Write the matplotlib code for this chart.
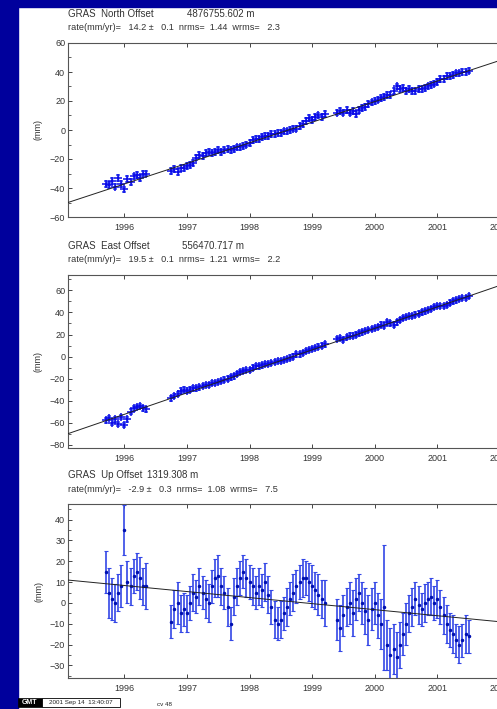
import numpy as np
import matplotlib
matplotlib.use("Agg")
import matplotlib.pyplot as plt
from matplotlib.patches import Rectangle
from matplotlib.ticker import MultipleLocator

plt.rcParams['font.family'] = ['Liberation Sans', 'DejaVu Sans']

# observing spans (decimal year), one sample every STEP years
SPANS = [(1995.70, 1996.35), (1996.75, 1999.20), (1999.40, 2001.50)]
STEP = 0.05
epochs = np.concatenate([np.arange(a, b + STEP / 2, STEP) for a, b in SPANS])

north = [-37, -38, -35, -39, -33, -37, -41, -34, -36, -32, -31, -33, -30, -30,
         -28, -27, -29, -26, -26, -25, -24, -23, -19, -17, -18, -16, -15, -16, -15,
         -14, -15, -14, -13, -14, -13, -12, -12, -11, -10, -9, -7, -6, -6, -5,
         -4, -4, -3, -3, -2, -2, -1, -1, 0, 1, 1, 3, 4, 6, 8, 7, 9, 10, 9, 11,
         12, 13, 12, 14, 12, 13, 11, 14, 15, 16, 18, 19,
         20, 21, 22, 23, 24, 24, 27, 30, 28, 29, 27, 28, 27, 27, 28, 28, 29, 30, 31, 32,
         33, 35, 35, 37, 37, 38, 39, 39, 40, 40, 41]

east = [-58, -56, -60, -57, -61, -55, -62, -57, -50, -47, -46, -45, -47, -48,
        -38, -36, -34, -31, -30, -31, -30, -29, -29, -28, -27, -26, -26, -24, -24,
        -23, -22, -21, -20, -19, -18, -16, -14, -13, -12, -12, -10, -9, -9, -8,
        -7, -7, -6, -5, -4, -4, -3, -2, -1, 0, 2, 2, 3, 5, 6, 7, 8, 9, 10, 11,
        16, 17, 15, 18, 19, 19, 20, 21, 22, 23, 24, 25,
        26, 27, 29, 28, 31, 30, 29, 31, 33, 35, 36, 37, 37, 38, 39, 40, 41, 42, 43, 45,
        46, 46, 46, 47, 49, 50, 51, 52, 53, 53, 55]

up = [15, 5, 2, 0, 5, 8, 35, 10, 8, 13, 15, 12, 8, 8,
      -9, -3, 0, -5, -3, -5, 0, 5, 3, 8, 5, 2, 0, 8, 12, 13, 8, 5, -2, -10,
      3, 8, 12, 15, 12, 10, 8, 5, 8, 6, 10, 4, -2, -8, -10, -8, -5, -2, 2, 5,
      8, 10, 12, 12, 10, 8, 6, 4, 2, 0,
      -8, -12, -6, -2, 0, -5, 2, 5, 0, -4, -8, -3,
      0, -6, -10, -2, -20, -25, -22, -26, -20, -15, -10, -5, -2, 2, -1, -3, 0, 2, 3, 0,
      2, -2, -6, -10, -13, -15, -18, -20, -18, -15, -16]

up_sig = [10, 12, 10, 9, 9, 10, 12, 10, 9, 8, 9, 10, 9, 11,
          8, 9, 10, 9, 8, 9, 8, 9, 8, 9, 8, 9, 9, 8, 9, 10, 9, 8, 9, 8,
          9, 9, 8, 8, 9, 8, 9, 8, 9, 8, 9, 9, 8, 9, 8, 9, 8, 9, 8, 9,
          8, 8, 9, 8, 9, 10, 9, 10, 9, 11,
          10, 11, 10, 9, 10, 11, 10, 9, 10, 11, 12, 10,
          10, 11, 12, 30, 12, 13, 12, 12, 11, 10, 10, 9, 9, 8, 9, 8, 9, 8, 9, 8,
          9, 8, 9, 9, 8, 9, 8, 9, 8, 9, 8]
NE_SIG = 2.0

components = ["North", "East", "Up"]
offsets = ["4876755.602", "556470.717", "1319.308"]
rates = [14.2, 19.5, -2.9]
rate_err = [0.1, 0.1, 0.3]
nrms = [1.44, 1.21, 1.08]
wrms = [2.3, 2.2, 7.5]
fit_start = [-50.0, -70.0, 11.0]     # fitted line value at X0
X0, X1 = 1995.1, 2002.3
ylims = [(-60, 60), (-83, 74), (-36, 47.5)]
ymajor = [20, 20, 10]
yminor = [10, 10, 5]

W, H = 497, 709
fig = plt.figure(figsize=(W / 100, H / 100), dpi=100)
fig.patch.set_facecolor("white")

# blue page border
BLUE = "#00009c"
fig.patches.append(Rectangle((0, 1 - 7 / H), 1, 7 / H, transform=fig.transFigure,
                             color=BLUE, zorder=0))
fig.patches.append(Rectangle((0, 0), 18 / W, 1, transform=fig.transFigure,
                             color=BLUE, zorder=0))

tops = [43, 275, 504]
bots = [217, 448, 678]
offset_x = [187, 182, 147]   # where the offset value starts in each header
left = 68
px_per_yr = 62.6
ax_w = (X1 - X0) * px_per_yr

TXT = "#333333"
series = [north, east, up]
for i in range(3):
    ax = fig.add_axes([left / W, 1 - bots[i] / H, ax_w / W, (bots[i] - tops[i]) / H])
    vals = np.array(series[i], dtype=float)
    if i < 2:
        ax.errorbar(epochs, vals, yerr=NE_SIG, fmt="+", color="#0a0ae8",
                    ecolor="#3b4ef0", ms=5.5, mew=1.1, elinewidth=1.0, capsize=1.2,
                    zorder=3)
    else:
        ax.errorbar(epochs, vals, yerr=up_sig, fmt=".", color="#0010b0",
                    ecolor="#3347e6", ms=3, elinewidth=1.2, capsize=1.5,
                    capthick=0.8, zorder=3)
    tl = np.array([X0, X1])
    ax.plot(tl, fit_start[i] + rates[i] * (tl - X0), color="#222222", lw=0.7, zorder=4)

    ax.set_xlim(X0, X1)
    ax.set_ylim(*ylims[i])
    ax.xaxis.set_major_locator(MultipleLocator(1))
    ax.yaxis.set_major_locator(MultipleLocator(ymajor[i]))
    ax.yaxis.set_minor_locator(MultipleLocator(yminor[i]))
    ax.tick_params(axis="x", which="major", direction="in", length=3, width=0.7,
                   top=True, labelsize=6.5, pad=4, colors="#444444", labelcolor=TXT)
    ax.tick_params(axis="y", which="major", direction="in", length=3, width=0.7,
                   labelsize=6.5, pad=2, colors="#444444", labelcolor=TXT)
    ax.tick_params(axis="y", which="minor", direction="in", length=1.8, width=0.6,
                   colors="#444444")
    ax.set_xticklabels([str(int(t)) for t in ax.get_xticks()])
    for s in ax.spines.values():
        s.set_color("#555555")
        s.set_linewidth(0.8)
    ax.set_ylabel("(mm)", fontsize=6.5, color=TXT, labelpad=5)

    ytitle = tops[i] - 29
    fig.text(left / W, 1 - ytitle / H, f"GRAS  {components[i]} Offset",
             fontsize=7, color=TXT, va="center", ha="left")
    fig.text(offset_x[i] / W, 1 - ytitle / H, f"{offsets[i]} m",
             fontsize=7, color=TXT, va="center", ha="left")
    fig.text(left / W, 1 - (ytitle + 14) / H,
             f"rate(mm/yr)=   {rates[i]:.1f} \u00b1   {rate_err[i]:.1f}  "
             f"nrms=  {nrms[i]:.2f}  wrms=   {wrms[i]:.1f}",
             fontsize=6.6, color=TXT, va="center", ha="left")

# GMT time stamp in the lower left corner
fig.patches.append(Rectangle((18 / W, 1 - 707 / H), 24 / W, 9 / H,
                             transform=fig.transFigure, facecolor="black",
                             edgecolor="black", lw=0.5, zorder=5))
fig.text(30 / W, 1 - 702.5 / H, "GMT", fontsize=5, color="white",
         fontweight="bold", ha="center", va="center", zorder=6)
fig.patches.append(Rectangle((42 / W, 1 - 707 / H), 78 / W, 9 / H,
                             transform=fig.transFigure, facecolor="white",
                             edgecolor="black", lw=0.6, zorder=5))
fig.text(81 / W, 1 - 702.5 / H, "2001 Sep 14  13:40:07", fontsize=4.5,
         color="#222222", ha="center", va="center", zorder=6)
fig.text(157 / W, 1 - 704 / H, "cv 48", fontsize=4.5, color="#222222",
         ha="left", va="center")

fig.savefig("out.png", dpi=100)
